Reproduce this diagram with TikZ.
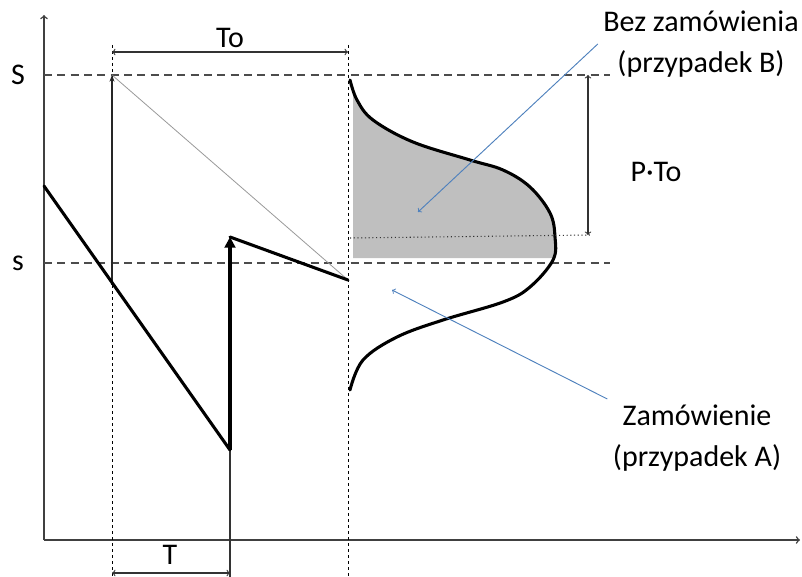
\documentclass[tikz,border=0pt]{standalone}
\usepackage{fontspec}
\setmainfont{Carlito}
\usepackage{tikz}
\usetikzlibrary{arrows,positioning,calc,arrows.meta}
\definecolor{calloutblue}{RGB}{79,129,189}

\begin{document}
\begin{tikzpicture}[
      x=0.75pt, y=-0.75pt,
      txt/.style={font=\fontsize{22.5}{31}\selectfont, align=center, inner sep=0pt},
      casetxt/.style={txt, inner sep=4pt},
      axisline/.style={draw=black!75, line width=1.1pt, ->, >=to},
      levelline/.style={draw=black!70, line width=1pt, dash pattern=on 6pt off 4pt},
      guideline/.style={draw=black, line width=0.7pt, dash pattern=on 2.5pt off 2pt},
      stockline/.style={draw=black, line width=2.3pt, line join=round, line cap=round},
      dimarrow/.style={draw=black!80, line width=0.8pt, <->, >=to},
      callout/.style={draw=calloutblue, line width=0.7pt, ->, >=to},
    ]
    \useasboundingbox (0,0) rectangle (802,577);
    % points
    \coordinate (O) at (44,540);
    \coordinate (ytop) at (44,15);
    \coordinate (xend) at (800,540);
    \coordinate (Sl) at (44,75);
    \coordinate (Sr) at (610,75);
    \coordinate (sl) at (44,263);
    \coordinate (sr) at (610,263);
    \coordinate (g1t) at (112,45);
    \coordinate (g1b) at (112,577);
    \coordinate (g2t) at (348,45);
    \coordinate (g2b) at (348,577);
    \coordinate (orderS) at (112,75);
    \coordinate (orderlow) at (112,285);
    \coordinate (stock0) at (44,186);
    \coordinate (stockmin) at (230,450);
    \coordinate (stockup) at (230,237);
    \coordinate (stockend) at (348,280);
    \coordinate (Tfoot) at (230,577);
    \coordinate (tipB) at (418,212);
    \coordinate (tipA) at (392,290);

    % labels
    \node [txt] (Slab) at (18,75) {S};
    \node [txt] (slab) at (18,263) {s};
    \node [txt] (Tolab) at (230,38) {To};
    \node [txt] (Tlab) at (170,555) {T};
    \node [txt] (PTo) at (656,172) {P·To};
    \node [casetxt] (caseB) at (701,44) {Bez zamówienia\\(przypadek B)};
    \node [casetxt] (caseA) at (697,438) {Zamówienie\\(przypadek A)};

    % axes and levels
    \draw [axisline] (O) -- (ytop);
    \draw [axisline] (O) -- (xend);
    \draw [levelline] (Sl) -- (Sr);
    \draw [levelline] (sl) -- (sr);
    \draw [guideline] (g1t) -- (g1b);
    \draw [guideline] (g2t) -- (g2b);
    \draw [black!80, line width=0.8pt] (stockmin) -- (Tfoot);

    % demand distribution
    \fill [black!25] (353,258) -- (353,92) -- plot [smooth, tension=0.6] coordinates {(357,100) (373,120) (413,142) (470,160) (503,170) (530,187) (550,213) (555,237) (553,258)} -- cycle;
    \draw [stockline] plot [smooth, tension=0.6] coordinates {(350,80) (357,100) (373,120) (413,142) (470,160) (503,170) (530,187) (550,213) (555,237) (553,260) (530,287) (503,302) (443,320) (397,337) (363,360) (350,390)};
    \draw [black!80, line width=0.8pt, dotted] (350,238) -- (590,235);

    % stock level
    \draw [black!40, line width=0.6pt] (orderS) -- (stockend);
    \draw [black!85, line width=0.8pt, -{Stealth[length=5pt]}] (orderlow) -- (orderS);
    \draw [stockline] (stock0) -- (stockmin);
    \draw [line width=3pt, -{Triangle[length=8pt,width=8pt]}] (stockmin) -- (stockup);
    \draw [stockline] (stockup) -- (stockend);

    % dimensions
    \draw [dimarrow] (112,52) -- (348,52);
    \draw [dimarrow] (112,573) -- (230,573);
    \draw [dimarrow] (588,75) -- (588,235);

    % callouts
    \draw [callout] (caseB.west) -- (tipB);
    \draw [callout] (caseA.north west) -- (tipA);
  \end{tikzpicture}
\end{document}
